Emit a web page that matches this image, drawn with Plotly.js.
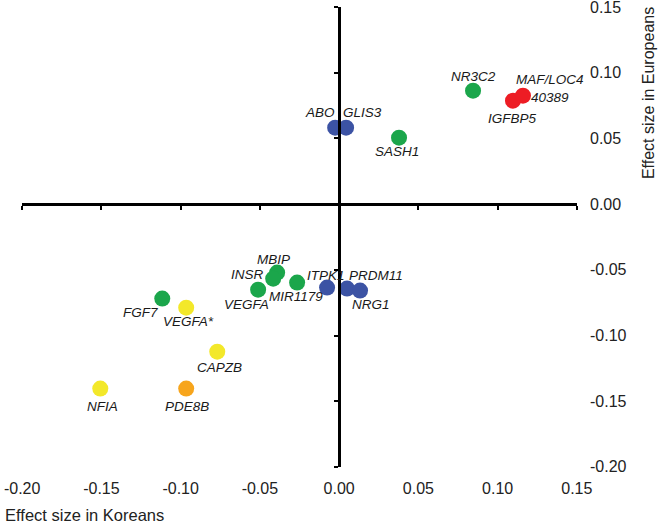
<!DOCTYPE html>
<html>
<head>
<meta charset="utf-8">
<script src="https://cdn.plot.ly/plotly-3.0.1.min.js"></script>
<style>html,body{margin:0;padding:0;background:#fff;}#chart{width:662px;height:523px;}</style>
</head>
<body>
<div id="chart"></div>
<script>
// ---- data ----
const genes = ["ABO","GLIS3","SASH1","NR3C2","IGFBP5","MAF/LOC440389","MBIP","INSR","VEGFA","MIR1179","ITPK1","PRDM11","NRG1","FGF7","VEGFA*","CAPZB","NFIA","PDE8B"];
const labelText = ["ABO","GLIS3","SASH1","NR3C2","IGFBP5","MAF/LOC4<br>40389","MBIP","INSR","VEGFA","MIR1179","ITPK1","PRDM11","NRG1","FGF7","VEGFA*","CAPZB","NFIA","PDE8B"];
const effectKoreans   = [-0.0025, 0.0044, 0.0378, 0.0845, 0.1097, 0.1160, -0.0391, -0.0416, -0.0511, -0.0265, -0.0076, 0.0050, 0.0132, -0.1116, -0.0965, -0.0769, -0.1507, -0.0965];
const effectEuropeans = [0.0582, 0.0582, 0.0506, 0.0864, 0.0788, 0.0826, -0.0521, -0.0567, -0.0651, -0.0597, -0.0635, -0.0643, -0.0658, -0.0719, -0.0788, -0.1123, -0.1404, -0.1404];
const group = ["blue","blue","green","green","red","red","green","green","green","green","blue","blue","blue","green","yellow","yellow","yellow","orange"];
const tickVals = [-0.20, -0.15, -0.10, -0.05, 0.00, 0.05, 0.10, 0.15];
const tickText = ["-0.20","-0.15","-0.10","-0.05","0.00","0.05","0.10","0.15"];

// ---- style ----
const groupColor = {blue:"#3c53a4", green:"#1ba64b", red:"#ed1c24", yellow:"#f3e82a", orange:"#f7a51c"};
// label offsets in px (dx right, dy down)
const labelOffset = [[-15,-15],[16,-15],[-2,14],[0,-14],[0,18],[27,-7],[-4,-13],[-26,-4],[-12,15],[-1,14],[-1,-12],[29,-13],[11,14],[-22,14],[2,14],[2,16],[2,18],[1,18]];

const trace = {
  type: "scatter", mode: "markers",
  x: effectKoreans, y: effectEuropeans, text: genes,
  xaxis: "x", yaxis: "y",
  marker: {size: 16, color: group.map(g => groupColor[g]), line: {width: 0}},
  hoverinfo: "text+x+y", showlegend: false
};
const dummy = {type:"scatter", mode:"markers", x:[], y:[], xaxis:"x2", yaxis:"y2", showlegend:false, hoverinfo:"skip"};

const labelFont = {family: "Liberation Sans, Arial, sans-serif", size: 13.5, color: "#1a1a1a"};
const annotations = genes.map((g, i) => ({
  x: effectKoreans[i], y: effectEuropeans[i], xref: "x", yref: "y",
  text: "<i>" + labelText[i] + "</i>", showarrow: false,
  xanchor: "center", yanchor: "middle",
  xshift: labelOffset[i][0], yshift: -labelOffset[i][1],
  font: labelFont
}));
const titleFont = {family: "Liberation Sans, Arial, sans-serif", size: 16.5, color: "#222"};
const titleFontY = {family: "Liberation Sans, Arial, sans-serif", size: 16, color: "#222"};
annotations.push({xref:"paper", yref:"paper", x:-0.034, y:-0.105, xanchor:"left", yanchor:"middle", showarrow:false, text:"Effect size in Koreans", font:titleFont});
annotations.push({xref:"paper", yref:"paper", x:1.128, y:0.813, xanchor:"center", yanchor:"middle", textangle:-90, showarrow:false, text:"Effect size in Europeans", font:titleFontY});

const rng = [-0.2001, 0.1501];
const zeroPos = (0 - rng[0]) / (rng[1] - rng[0]);
const tickFont = {family: "Liberation Sans, Arial, sans-serif", size: 16, color: "#222"};

const layout = {
  width: 662, height: 523,
  margin: {l: 22, r: 85, t: 7, b: 56, pad: 0},
  paper_bgcolor: "#fff", plot_bgcolor: "#fff",
  xaxis: {range: rng, anchor: "free", position: zeroPos, showline: true, linewidth: 3, linecolor: "#000",
          ticks: "outside", ticklen: 4, tickwidth: 2, tickcolor: "#000", tickvals: tickVals,
          showticklabels: false, showgrid: false, zeroline: false},
  yaxis: {range: rng, anchor: "free", position: zeroPos, side: "left", showline: true, linewidth: 3, linecolor: "#000",
          ticks: "outside", ticklen: 4, tickwidth: 2, tickcolor: "#000", tickvals: tickVals,
          showticklabels: false, showgrid: false, zeroline: false},
  xaxis2: {range: rng, overlaying: "x", anchor: "y2", side: "bottom", showline: false, ticks: "", showgrid: false, zeroline: false,
           tickvals: tickVals, ticktext: tickText, tickfont: tickFont, ticklabelstandoff: 10, ticklabeloverflow: "allow"},
  yaxis2: {range: rng, overlaying: "y", anchor: "x2", side: "right", showline: false, ticks: "", showgrid: false, zeroline: false,
           tickvals: tickVals, ticktext: tickText, tickfont: tickFont, ticklabelstandoff: 12, ticklabeloverflow: "allow"},
  annotations: annotations,
  hovermode: "closest"
};
Plotly.newPlot("chart", [dummy, trace], layout, {displayModeBar: false, staticPlot: true});
</script>
</body>
</html>
